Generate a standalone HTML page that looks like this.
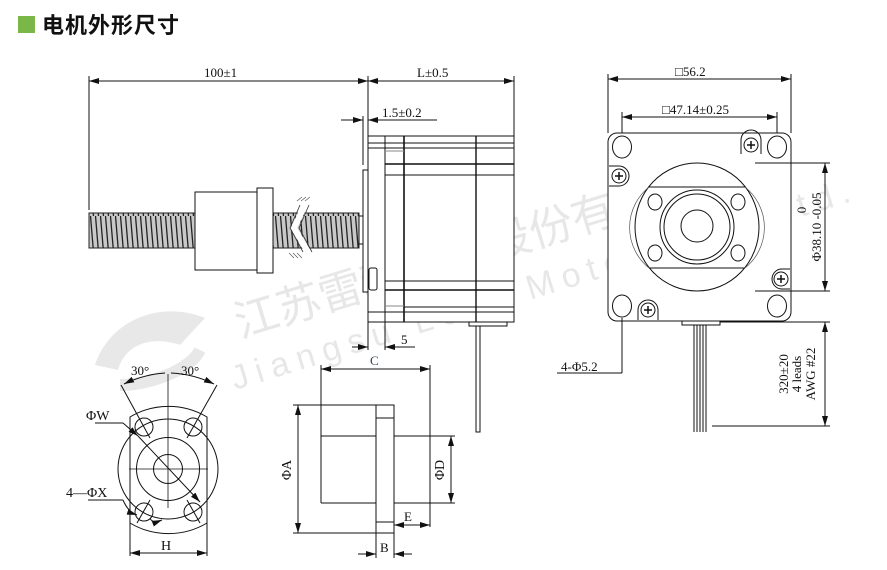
<!DOCTYPE html>
<html><head><meta charset="utf-8"><style>
html,body{margin:0;padding:0;background:#fff;width:887px;height:570px;overflow:hidden}
svg{display:block}
text{font-family:"Liberation Serif",serif;fill:#111}
</style></head><body>
<svg width="887" height="570" viewBox="0 0 887 570" xmlns="http://www.w3.org/2000/svg">
<defs>
<marker id="a" viewBox="0 0 10 6" refX="10" refY="3" markerWidth="10" markerHeight="6" orient="auto-start-reverse" markerUnits="userSpaceOnUse"><path d="M0,0 L10,3 L0,6z" fill="#111"/></marker>
<pattern id="thr" width="5" height="36" patternUnits="userSpaceOnUse">
<rect width="5" height="36" fill="#c8c8c8"/>
<path d="M0.5,0 L3.5,36" stroke="#222" stroke-width="1.3"/>
</pattern>
</defs>

<!-- watermark -->
<g opacity="0.55" fill="#ddd">
<path d="M95,365 C110,320 160,300 205,318 L180,345 C150,335 125,345 118,370 Z" fill="#d6d6d6"/>
<path d="M120,385 C150,385 190,370 200,350" stroke="#d6d6d6" stroke-width="12" fill="none"/>
<text x="0" y="0" transform="translate(240,338) rotate(-17)" style="font-family:'Noto Sans CJK SC',sans-serif;font-size:44px;fill:#d4d4d4">江苏雷利电机股份有限公司</text>
<text x="0" y="0" transform="translate(235,390) rotate(-17)" style="font-family:'Liberation Sans',sans-serif;font-size:34px;letter-spacing:8px;fill:#d4d4d4">Jiangsu Leili Motor Co., Ltd.</text>
</g>

<!-- title -->
<rect x="18" y="16" width="17" height="17" fill="#7ab648"/>
<text x="42" y="33" style="font-family:'Noto Sans CJK SC',sans-serif;font-weight:bold;font-size:22px;letter-spacing:1px">电机外形尺寸</text>

<g stroke="#111" stroke-width="1" fill="none">
<!-- top dims -->
<line x1="89" y1="81" x2="368" y2="81" marker-start="url(#a)" marker-end="url(#a)"/>
<line x1="368" y1="81" x2="514" y2="81" marker-start="url(#a)" marker-end="url(#a)"/>
<line x1="89" y1="76" x2="89" y2="210"/>
<line x1="368" y1="76" x2="368" y2="136"/>
<line x1="514" y1="76" x2="514" y2="136"/>
<line x1="341" y1="120" x2="363" y2="120" marker-end="url(#a)"/>
<line x1="368" y1="120" x2="437" y2="120"/>
<line x1="379" y1="120" x2="368" y2="120" marker-end="url(#a)"/>
<line x1="363" y1="116" x2="363" y2="165"/>

<!-- screw -->
<rect x="89" y="213" width="106" height="35" fill="url(#thr)" stroke="#222"/>
<rect x="273" y="213" width="86" height="35" fill="url(#thr)" stroke="#222"/>
<rect x="195" y="192" width="62" height="78" fill="#fff"/>
<rect x="257" y="188" width="16" height="85" fill="#fff"/>
<rect x="359" y="216" width="4" height="28" fill="#fff"/>
<path d="M305,205 L294,228 L308,252" stroke="#fff" stroke-width="6"/>
<path d="M300,205 L290,228 L303,252 M309,205 L299,228 L312,252" stroke="#333" stroke-width="0.8"/>
<path d="M297,201 L302,197 M301,201 L306,197 M305,201 L310,197 M289,253 L294,258 M293,253 L298,258 M297,253 L302,258" stroke="#555" stroke-width="0.7"/>

<!-- motor side -->
<rect x="363" y="170" width="5" height="122" fill="#fff"/>
<rect x="368" y="136" width="146" height="186" fill="#fff"/>
<rect x="369" y="268" width="8" height="22" rx="2"/>
<line x1="385" y1="136" x2="385" y2="322"/>
<line x1="404" y1="136" x2="404" y2="322" stroke-width="1.6"/>
<line x1="476" y1="136" x2="476" y2="322" stroke-width="1.4"/>
<line x1="368" y1="143" x2="514" y2="143"/>
<line x1="368" y1="148" x2="514" y2="148"/>
<line x1="385" y1="151" x2="404" y2="151" stroke="#888"/>
<line x1="385" y1="164" x2="514" y2="164" stroke-width="1.4"/>
<line x1="385" y1="175" x2="514" y2="175"/>
<line x1="385" y1="281" x2="514" y2="281"/>
<line x1="385" y1="290" x2="514" y2="290" stroke-width="1.4"/>
<line x1="385" y1="306" x2="404" y2="306" stroke="#888"/>
<line x1="404" y1="307" x2="514" y2="307"/>
<line x1="368" y1="312" x2="514" y2="312"/>
<rect x="469" y="322" width="38" height="4"/>
<rect x="476" y="326" width="4" height="106"/>
<line x1="368" y1="322" x2="368" y2="350"/>
<line x1="385" y1="322" x2="385" y2="350"/>
<line x1="352" y1="347" x2="368" y2="347" marker-end="url(#a)"/>
<line x1="400" y1="347" x2="385" y2="347" marker-end="url(#a)"/>
<line x1="400" y1="347" x2="415" y2="347"/>

<!-- front view -->
<line x1="608" y1="79" x2="791" y2="79" marker-start="url(#a)" marker-end="url(#a)"/>
<line x1="608" y1="74" x2="608" y2="133"/>
<line x1="791" y1="74" x2="791" y2="133"/>
<line x1="622" y1="117" x2="777" y2="117" marker-start="url(#a)" marker-end="url(#a)"/>
<line x1="622" y1="112" x2="622" y2="140"/>
<line x1="777" y1="112" x2="777" y2="140"/>
<rect x="608" y="133" width="183" height="188" rx="9" fill="#fff"/>
<ellipse cx="622" cy="147" rx="9.5" ry="11"/>
<ellipse cx="777" cy="147" rx="9.5" ry="11"/>
<ellipse cx="622" cy="306" rx="9.5" ry="11"/>
<ellipse cx="777" cy="306" rx="9.5" ry="11"/>
<ellipse cx="697" cy="227" rx="62" ry="64"/>
<path d="M649,187 L745,187 M649,268 L745,268"/>
<path d="M649,187 A52,52 0 0 0 649,268 M745,187 A52,52 0 0 1 745,268" stroke="#555" stroke-width="0.7"/>
<circle cx="697" cy="227" r="37"/>
<circle cx="697" cy="227" r="33"/>
<circle cx="697" cy="226" r="16"/>
<ellipse cx="655" cy="202" rx="7" ry="8"/>
<ellipse cx="738" cy="202" rx="7" ry="8"/>
<ellipse cx="655" cy="253" rx="7" ry="8"/>
<ellipse cx="738" cy="253" rx="7" ry="8"/>
<g>
<path d="M741,154 L741,140 A10,10 0 0 1 761,140 L761,154" /><circle cx="751" cy="145" r="7"/>
<path d="M609,166 L619,166 A10,10 0 0 1 619,186 L609,186"/><circle cx="619" cy="176" r="7"/>
<path d="M790,269 L782,269 A10,10 0 0 0 782,289 L790,289"/><circle cx="781" cy="279" r="7"/>
<path d="M638,320 L638,310 A10,10 0 0 1 658,310 L658,320"/><circle cx="648" cy="310" r="7"/>
</g>
<path d="M747,145 h8 M751,141 v8 M615,176 h8 M619,172 v8 M777,279 h8 M781,275 v8 M644,310 h8 M648,306 v8" stroke-width="1.5"/>
<line x1="755" y1="163" x2="830" y2="163"/>
<line x1="755" y1="291" x2="830" y2="291"/>
<line x1="825" y1="163" x2="825" y2="291" marker-start="url(#a)" marker-end="url(#a)"/>
<rect x="682" y="321" width="38" height="4"/>
<path d="M694,325 v107 M697,325 v107 M700,325 v107 M703,325 v107 M706,325 v107"/>
<line x1="720" y1="322" x2="830" y2="322"/>
<line x1="712" y1="426" x2="830" y2="426"/>
<line x1="825" y1="322" x2="825" y2="426" marker-start="url(#a)" marker-end="url(#a)"/>
<line x1="622" y1="318" x2="622" y2="373"/>
<line x1="557" y1="373" x2="622" y2="373"/>

<!-- bottom-left flange view -->
<path d="M130,417 L130,523 A75,75 0 0 0 207,523 L207,417 A75,75 0 0 0 130,417 Z"/>
<circle cx="168" cy="469" r="50"/>
<circle cx="168" cy="469" r="31.5"/>
<circle cx="168" cy="469" r="14.5"/>
<circle cx="144" cy="427" r="9"/>
<circle cx="193" cy="427" r="9"/>
<circle cx="144" cy="512" r="9"/>
<circle cx="193" cy="512" r="9"/>
<line x1="129" y1="469" x2="208" y2="469" stroke-width="0.8"/>
<line x1="168" y1="374" x2="168" y2="508" stroke-width="0.8"/>
<line x1="121" y1="385" x2="150" y2="438"/>
<line x1="217" y1="385" x2="187" y2="438"/>
<line x1="137" y1="523" x2="150" y2="500"/>
<line x1="200" y1="523" x2="187" y2="500"/>
<path d="M124,384 A110,110 0 0 1 165,373" marker-start="url(#a)"/>
<path d="M214,384 A110,110 0 0 0 171,373" marker-start="url(#a)"/>
<line x1="95" y1="423" x2="123" y2="423"/>
<line x1="123" y1="423" x2="138" y2="436" marker-end="url(#a)"/>
<line x1="138" y1="436" x2="200" y2="502" marker-end="url(#a)"/>
<line x1="88" y1="500" x2="123" y2="500"/>
<path d="M123,500 Q128,512 137,515" marker-end="url(#a)"/>
<path d="M150,518 Q152,524 162,520" marker-end="url(#a)"/>
<line x1="130" y1="523" x2="130" y2="556"/>
<line x1="207" y1="523" x2="207" y2="556"/>
<line x1="130" y1="553" x2="207" y2="553" marker-start="url(#a)" marker-end="url(#a)"/>

<!-- nut side view -->
<line x1="293" y1="405" x2="376" y2="405"/>
<line x1="293" y1="533" x2="376" y2="533"/>
<line x1="298" y1="405" x2="298" y2="533" marker-start="url(#a)" marker-end="url(#a)"/>
<line x1="321" y1="365" x2="321" y2="503"/>
<line x1="321" y1="436" x2="376" y2="436"/>
<line x1="321" y1="503" x2="376" y2="503"/>
<rect x="376" y="405" width="18" height="128"/>
<line x1="376" y1="418" x2="394" y2="418"/>
<line x1="376" y1="522" x2="394" y2="522"/>
<line x1="394" y1="436" x2="455" y2="436"/>
<line x1="394" y1="503" x2="455" y2="503"/>
<line x1="430" y1="365" x2="430" y2="527"/>
<line x1="321" y1="369" x2="430" y2="369" marker-start="url(#a)" marker-end="url(#a)"/>
<line x1="451" y1="436" x2="451" y2="503" marker-start="url(#a)" marker-end="url(#a)"/>
<line x1="394" y1="525" x2="430" y2="525" marker-start="url(#a)" marker-end="url(#a)"/>
<line x1="376" y1="533" x2="376" y2="558"/>
<line x1="394" y1="533" x2="394" y2="558"/>
<line x1="358" y1="554" x2="376" y2="554" marker-end="url(#a)"/>
<line x1="412" y1="554" x2="394" y2="554" marker-end="url(#a)"/>
</g>

<!-- labels -->
<g style="font-size:13px">
<text x="204" y="77">100±1</text>
<text x="417" y="77">L±0.5</text>
<text x="382" y="117">1.5±0.2</text>
<text x="401" y="344">5</text>
<text x="675" y="76">□56.2</text>
<text x="662" y="114">□47.14±0.25</text>
<text x="561" y="371">4-Φ5.2</text>
<text transform="translate(821,227) rotate(-90)" text-anchor="middle">Φ38.10 -0.05</text>
<text transform="translate(806,210) rotate(-90)" text-anchor="middle">0</text>
<text transform="translate(788,374) rotate(-90)" text-anchor="middle">320±20</text>
<text transform="translate(801,374) rotate(-90)" text-anchor="middle">4 leads</text>
<text transform="translate(815,374) rotate(-90)" text-anchor="middle">AWG #22</text>
<text x="131" y="375">30°</text>
<text x="181" y="375">30°</text>
<text x="86" y="420" style="font-size:14px">ΦW</text>
<text x="66" y="497" style="font-size:14px">4—ΦX</text>
<text x="161" y="550" style="font-size:14px">H</text>
<text x="370" y="365" style="fill:#345">C</text>
<text transform="translate(291,470) rotate(-90)" text-anchor="middle" style="font-size:14px">ΦA</text>
<text transform="translate(444,470) rotate(-90)" text-anchor="middle" style="font-size:14px">ΦD</text>
<text x="404" y="521">E</text>
<text x="380" y="552">B</text>
</g>
</svg>
</body></html>
